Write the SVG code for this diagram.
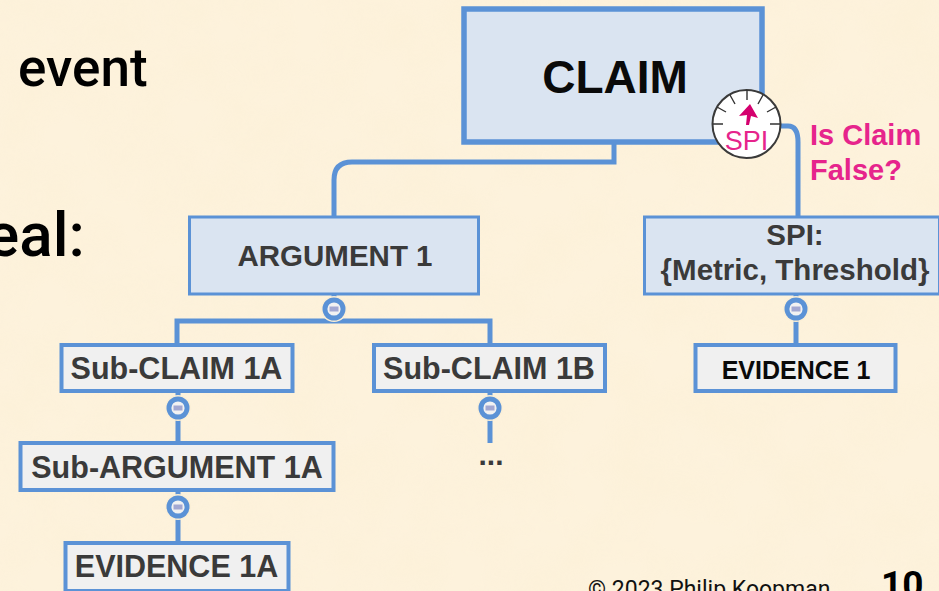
<svg xmlns="http://www.w3.org/2000/svg" width="939" height="591" viewBox="0 0 939 591">
<style>
.box{stroke:#5B92D6}
.b{font-family:"Liberation Sans",Arial,sans-serif;font-weight:700;text-anchor:middle;fill:#3a3a3a}
.r{font-family:Roboto,"Liberation Sans",sans-serif}
.c{fill:none;stroke:#5B92D6;stroke-width:5}
.dot{fill:#5B92D6}
.hole{fill:#F2F2F2}
.bar{fill:#A3A8D2}
.tick{stroke:#333;stroke-width:1.4}
.pink{fill:#E6248C;font-family:"Liberation Sans",Arial,sans-serif;font-weight:700}
</style>
<defs>
<filter id="mottle" x="0" y="0" width="100%" height="100%">
<feTurbulence type="fractalNoise" baseFrequency="0.018" numOctaves="3" seed="7"/>
<feColorMatrix values="0 0 0 0 0.96  0 0 0 0 0.85  0 0 0 0 0.62  0.7 0 0 0 -0.22"/>
</filter>
<g id="collapse">
<circle r="13" fill="#FBEFD6"/>
<circle r="11.5" class="dot"/>
<circle r="6.6" class="hole"/>
<rect x="-4.5" y="-2.5" width="9" height="5" class="bar"/>
</g>
</defs>
<rect width="939" height="591" fill="#FDF2DC"/>
<rect width="939" height="591" filter="url(#mottle)" opacity="0.55"/>
<g id="slide-text" class="r" font-weight="500" fill="#000">
<text x="18" y="86" font-size="53">event</text>
<text x="-14" y="256" font-size="62">eal:</text>
<text x="588" y="597" font-size="23" font-weight="400" fill="#111">© 2023 Philip Koopman</text>
<text x="881" y="597" font-size="37" font-weight="700">10</text>
</g>
<g id="connectors">
<path class="c" d="M614 144V162H352Q334 162 334 180V217"/>
<path class="c" d="M334 294V321M177 345V321H490V345"/>
<path class="c" d="M178 391V443M178 491V543"/>
<path class="c" d="M490 391V443"/>
<path class="c" d="M796 294V345"/>
<path class="c" d="M780 126H788Q798 126 798 142V217"/>
</g>
<g id="claim">
<rect class="box" x="464" y="9" width="298" height="133" fill="#DAE4F1" stroke-width="5.5"/>
<text class="b" x="615" y="93" font-size="46" style="fill:#0a0a0a">CLAIM</text>
</g>
<g id="spi-gauge">
<circle cx="746.500" cy="124" r="34" fill="#fff" stroke="#3a3a3a" stroke-width="2"/>
<path class="tick" d="M747 90V100M730 95L735 104M717 107L726 112M713 124H723M763 95L758 104M776 107L767 112M780 124H770"/>
<path d="M750 104L758 118L751 116L749 125L746 125L747 115L739 116Z" fill="#D4006E"/>
<text x="746.500" y="150" font-size="27" text-anchor="middle" font-family="Liberation Sans,Arial,sans-serif" fill="#E6248C">SPI</text>
</g>
<g id="spi-question">
<text class="pink" x="810" y="145" font-size="29">Is Claim</text>
<text class="pink" x="810" y="180" font-size="29">False?</text>
</g>
<g id="argument-1">
<rect class="box" x="189.500" y="217" width="289" height="77" fill="#DAE4F1" stroke-width="3"/>
<text class="b" x="335" y="266" font-size="29.500">ARGUMENT 1</text>
</g>
<g id="spi-node">
<rect class="box" x="644.500" y="217" width="295" height="77" fill="#DAE4F1" stroke-width="3"/>
<text class="b" x="795" y="245" font-size="29.500">SPI:</text>
<text class="b" x="795" y="280" font-size="29.500">{Metric, Threshold}</text>
</g>
<g id="sub-claim-1a">
<rect class="box" x="61.500" y="345" width="231" height="46" fill="#F0F0F0" stroke-width="4"/>
<text class="b" x="176.500" y="379" font-size="30.500">Sub-CLAIM 1A</text>
</g>
<g id="sub-claim-1b">
<rect class="box" x="374" y="345" width="231" height="46" fill="#F0F0F0" stroke-width="4"/>
<text class="b" x="489" y="379" font-size="30.500">Sub-CLAIM 1B</text>
</g>
<g id="evidence-1">
<rect class="box" x="695.500" y="345" width="200" height="46" fill="#F0F0F0" stroke-width="4"/>
<text class="b" x="796" y="379" font-size="25" style="fill:#0a0a0a">EVIDENCE 1</text>
</g>
<g id="sub-argument-1a">
<rect class="box" x="20.500" y="443" width="313" height="47" fill="#F0F0F0" stroke-width="4"/>
<text class="b" x="177" y="478" font-size="30.500">Sub-ARGUMENT 1A</text>
</g>
<g id="evidence-1a">
<rect class="box" x="65.500" y="543" width="223" height="48" fill="#F0F0F0" stroke-width="4"/>
<text class="b" x="176.500" y="577" font-size="30.500">EVIDENCE 1A</text>
</g>
<g id="ellipsis">
<text class="b" x="491" y="465" font-size="30">...</text>
</g>
<g id="collapse-markers">
<use href="#collapse" x="334" y="309"/>
<use href="#collapse" x="178" y="408"/>
<use href="#collapse" x="490" y="408"/>
<use href="#collapse" x="178" y="507"/>
<use href="#collapse" x="796" y="309"/>
</g>
</svg>
